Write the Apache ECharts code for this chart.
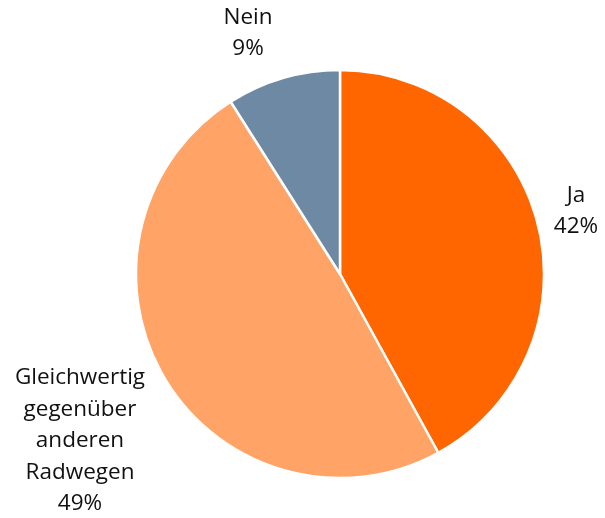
<!DOCTYPE html>
<html>
<head>
<meta charset="utf-8">
<script src="https://cdn.jsdelivr.net/npm/echarts@6/dist/echarts.min.js"></script>
<style>
  html, body { margin: 0; padding: 0; background: #ffffff; }
  #chart { width: 605px; height: 518px; }
</style>
</head>
<body>
<div id="chart"></div>
<script>
// Survey answers and their shares (percent)
const categories = ['Ja', 'Gleichwertig\ngegenüber\nanderen\nRadwegen', 'Nein'];
const shares = [42, 49, 9];
const colors = ['#FF6600', '#FFA366', '#6E89A3'];

// Where each label block is centred
const labelCentres = [[576, 211], [80, 441], [248, 33]];

const chart = echarts.init(document.getElementById('chart'), null, { renderer: 'canvas' });

chart.setOption({
  backgroundColor: '#ffffff',
  animation: false,
  series: [{
    type: 'pie',
    center: [340, 274],
    radius: [0, 204],
    startAngle: 90,
    clockwise: true,
    data: categories.map((name, i) => ({
      name: name,
      value: shares[i],
      itemStyle: { color: colors[i] }
    })),
    itemStyle: { borderColor: '#ffffff', borderWidth: 2.5 },
    label: {
      show: true,
      position: 'outside',
      formatter: p => p.name + '\n' + p.value + '%',
      fontFamily: 'Open Sans, sans-serif',
      fontSize: 22.5,
      lineHeight: 31.5,
      color: '#111111',
      align: 'center',
      overflow: 'none',
      width: 200
    },
    labelLine: { show: false },
    labelLayout: function (params) {
      const c = labelCentres[params.dataIndex];
      return { x: c[0], y: c[1], align: 'center', verticalAlign: 'middle' };
    },
    emphasis: { disabled: true }
  }]
});
</script>
</body>
</html>
